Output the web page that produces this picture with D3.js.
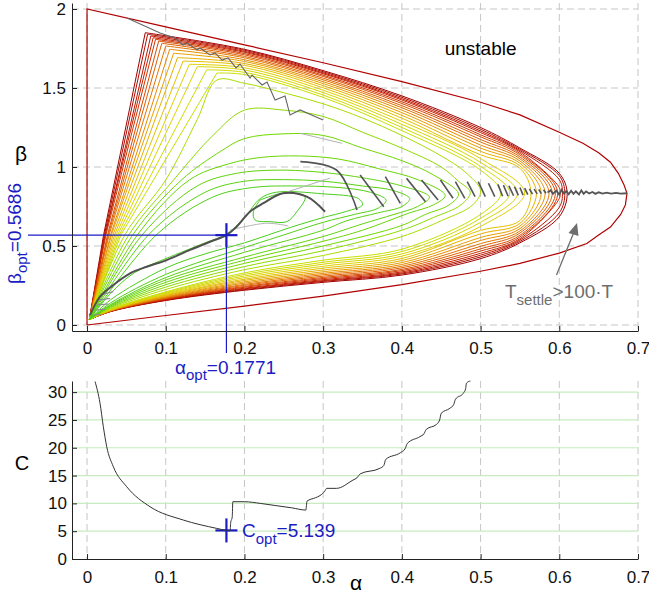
<!DOCTYPE html>
<html>
<head>
<meta charset="utf-8">
<script src="https://cdn.jsdelivr.net/npm/d3@7"></script>
<style>
  body { margin: 0; background: #fff; }
  text { font-family: "Liberation Sans", Arial, sans-serif; }
</style>
</head>
<body>
<svg width="649" height="605"></svg>
<script>
// ---- data ----
const alphaTicks = [0, 0.1, 0.2, 0.3, 0.4, 0.5, 0.6, 0.7];
const betaTicks = [0, 0.5, 1, 1.5, 2];
const cTicks = [0, 5, 10, 15, 20, 25, 30];

// stability boundary (alpha, beta)
const boundary = [[0,0],[0,2],[0.1,1.887],[0.2,1.773],[0.3,1.66],[0.4,1.54],[0.5,1.41],[0.55,1.33],
  [0.6,1.22],[0.63,1.15],[0.65,1.09],[0.665,1.03],[0.675,0.96],[0.682,0.89],[0.686,0.834],[0.684,0.76],
  [0.678,0.70],[0.665,0.62],[0.65,0.57],[0.635,0.516],[0.6,0.455],[0.55,0.39],[0.5,0.34],[0.4,0.255],
  [0.3,0.183],[0.2,0.12],[0.1,0.06],[0,0]];

// outer contour bundle (red -> yellow)
const origin = [0.003, 0.035];
const tipBeta = 0.835;
const topCols = [0.2, 0.3, 0.4, 0.5, 0.55, 0.6];
const botCols = [0.6, 0.55, 0.5, 0.4, 0.3, 0.2, 0.1, 0.03];
const bundleRay = [0.021,0.022,0.023,0.023,0.024,0.026,0.027,0.028,0.030,0.031,0.033,0.035,0.037,0.039,0.041,0.043];
const bundleCorner = [[0.074,1.850],[0.077,1.840],[0.081,1.829],[0.084,1.818],[0.087,1.808],[0.091,1.797],
  [0.095,1.783],[0.100,1.766],[0.105,1.745],[0.110,1.720],[0.115,1.692],[0.122,1.670],[0.130,1.650],
  [0.140,1.635],[0.152,1.615],[0.165,1.595]];
const bundleTop = [
  [1.745,1.610,1.450,1.250,1.120,0.960],
  [1.739,1.603,1.441,1.239,1.112,0.945],
  [1.732,1.596,1.432,1.228,1.104,0.920],
  [1.726,1.590,1.424,1.218,1.096,0.870],
  [1.718,1.581,1.413,1.204,1.086,null],
  [1.710,1.573,1.402,1.191,1.076,null],
  [1.700,1.562,1.388,1.174,1.064,null],
  [1.691,1.552,1.375,1.158,1.052,null],
  [1.679,1.540,1.360,1.139,1.038,null],
  [1.668,1.528,1.344,1.120,1.024,null],
  [1.655,1.515,1.327,1.099,1.008,null],
  [1.643,1.501,1.309,1.077,0.992,null],
  [1.628,1.486,1.289,1.053,null,null],
  [1.614,1.471,1.270,1.029,null,null],
  [1.599,1.455,1.250,1.004,null,null],
  [1.585,1.440,1.230,0.980,null,null]];
const bundleTip = [0.610,0.607,0.604,0.601,0.598,0.595,0.591,0.587,0.582,0.577,0.571,0.564,0.556,0.547,0.537,0.526];
const bundleBottom = [
  [0.685,0.520,0.420,0.316,0.270,0.220,0.155,0.085],
  [0.710,0.529,0.431,0.323,0.276,0.224,0.157,0.086],
  [0.745,0.538,0.442,0.329,0.281,0.229,0.159,0.086],
  [0.800,0.546,0.454,0.336,0.287,0.233,0.162,0.087],
  [null,0.557,0.468,0.344,0.294,0.239,0.164,0.088],
  [null,0.568,0.482,0.352,0.301,0.244,0.167,0.088],
  [null,0.582,0.498,0.362,0.309,0.251,0.170,0.089],
  [null,0.595,0.515,0.372,0.318,0.257,0.174,0.090],
  [null,0.610,0.535,0.383,0.327,0.265,0.178,0.091],
  [null,0.626,0.554,0.395,0.337,0.273,0.181,0.092],
  [null,0.643,0.577,0.408,0.348,0.282,0.186,0.093],
  [null,0.661,0.599,0.421,0.360,0.290,0.190,0.095],
  [null,null,0.624,0.436,0.372,0.300,0.195,0.096],
  [null,null,0.650,0.450,0.385,0.310,0.200,0.097],
  [null,null,0.675,0.465,0.397,0.320,0.205,0.099],
  [null,null,0.700,0.480,0.410,0.330,0.210,0.100]];

// inner (green) contours
const greenLines = [
  [[0.003,0.035],[0.048,0.57],[0.1,0.918],[0.14,1.3],[0.165,1.55],[0.2,1.53],[0.25,1.47],[0.3,1.40],[0.35,1.31],[0.4,1.2],[0.45,1.07],[0.48,0.97],[0.50,0.85],[0.49,0.76],[0.45,0.66],[0.4,0.56],[0.3,0.44],[0.2,0.35],[0.1,0.225],[0.03,0.105],[0.003,0.035]],
  [[0.003,0.035],[0.053,0.57],[0.11,0.918],[0.16,1.2],[0.2,1.36],[0.25,1.36],[0.3,1.32],[0.35,1.22],[0.4,1.12],[0.45,1.0],[0.472,0.91],[0.487,0.84],[0.475,0.76],[0.44,0.68],[0.4,0.60],[0.3,0.47],[0.2,0.37],[0.1,0.24],[0.03,0.11],[0.003,0.035]],
  [[0.003,0.035],[0.058,0.57],[0.12,0.918],[0.17,1.1],[0.2,1.18],[0.25,1.21],[0.3,1.2],[0.35,1.12],[0.4,1.04],[0.44,0.95],[0.472,0.83],[0.46,0.76],[0.43,0.70],[0.4,0.63],[0.3,0.50],[0.2,0.39],[0.1,0.255],[0.03,0.115],[0.003,0.035]],
  [[0.003,0.035],[0.064,0.57],[0.13,0.918],[0.18,1.02],[0.22,1.06],[0.27,1.07],[0.32,1.05],[0.37,0.99],[0.42,0.92],[0.455,0.82],[0.44,0.76],[0.41,0.71],[0.35,0.6],[0.3,0.53],[0.2,0.41],[0.1,0.27],[0.03,0.12],[0.003,0.035]],
  [[0.003,0.035],[0.07,0.57],[0.14,0.88],[0.19,0.96],[0.24,0.98],[0.29,0.97],[0.34,0.94],[0.4,0.88],[0.435,0.81],[0.42,0.75],[0.39,0.70],[0.35,0.64],[0.3,0.56],[0.2,0.43],[0.1,0.285],[0.03,0.125],[0.003,0.035]],
  [[0.003,0.035],[0.078,0.57],[0.15,0.84],[0.2,0.91],[0.25,0.92],[0.3,0.91],[0.35,0.88],[0.39,0.85],[0.41,0.8],[0.4,0.75],[0.37,0.71],[0.33,0.66],[0.3,0.6],[0.2,0.46],[0.1,0.30],[0.03,0.13],[0.003,0.035]],
  [[0.003,0.035],[0.088,0.57],[0.16,0.81],[0.21,0.87],[0.26,0.88],[0.32,0.87],[0.36,0.84],[0.38,0.79],[0.37,0.74],[0.34,0.70],[0.3,0.65],[0.25,0.57],[0.2,0.49],[0.1,0.32],[0.03,0.14],[0.003,0.035]],
  [[0.003,0.035],[0.03,0.2],[0.06,0.33],[0.1,0.42],[0.15,0.52],[0.177,0.575],[0.2,0.68],[0.22,0.8],[0.24,0.84],[0.3,0.83],[0.345,0.80],[0.35,0.76],[0.33,0.72],[0.3,0.68],[0.26,0.62],[0.2,0.52],[0.15,0.45],[0.1,0.36],[0.03,0.16],[0.003,0.035]],
  [[0.2198,0.791],[0.2113,0.717],[0.2135,0.665],[0.2326,0.654],[0.2538,0.654],[0.2665,0.717],[0.2770,0.812],[0.2494,0.834],[0.2198,0.791]]
];

// optimum-beta ridges (dark grey)
const ridgeUpper = [[0.0508,1.943],[0.0928,1.848],[0.1118,1.816],[0.122,1.772],[0.127,1.785],[0.1398,1.741],
  [0.1436,1.753],[0.1563,1.709],[0.1626,1.722],[0.1715,1.677],[0.1792,1.690],[0.1893,1.627],[0.1944,1.652],
  [0.2071,1.563],[0.2097,1.582],[0.2224,1.519],[0.2287,1.538],[0.2389,1.424],[0.2516,1.449],[0.2579,1.329],
  [0.2707,1.361],[0.2999,1.297]];
const ridgeMiddle = [[0.271,1.034],[0.317,0.981],[0.343,0.728]];
const ridgeLower = [[0.0038,0.063],[0.0165,0.179],[0.0334,0.253],[0.0546,0.327],[0.0758,0.369],[0.1012,0.411],
  [0.1309,0.475],[0.1563,0.527],[0.1771,0.5686],[0.190,0.622],[0.207,0.717],[0.224,0.771],[0.249,0.834],
  [0.2792,0.812],[0.3024,0.717]];
const ridgeLight = [
  [[0.1817,0.601],[0.2283,0.644],[0.2558,0.627]],
  [[0.249,0.834],[0.309,0.93]],
  [[0.271,1.213],[0.324,1.150]]
];
const ridgeTicks = [[0.347,0.949,0.377,0.749],[0.379,0.939,0.398,0.770],[0.406,0.928,0.430,0.780],
  [0.425,0.918,0.446,0.791],[0.449,0.918,0.465,0.802],[0.468,0.907,0.480,0.802],[0.483,0.907,0.493,0.812],
  [0.497,0.907,0.506,0.812],[0.510,0.897,0.518,0.812],[0.522,0.89,0.528,0.815],[0.529,0.885,0.535,0.815],
  [0.536,0.88,0.542,0.818],[0.543,0.875,0.548,0.82],[0.55,0.87,0.554,0.822],[0.556,0.866,0.56,0.825],
  [0.562,0.862,0.566,0.828],[0.568,0.86,0.572,0.83],[0.574,0.858,0.577,0.832],[0.580,0.856,0.583,0.834]];
const originTicks = [[0.0165,0.19,0.0334,0.211],[0.0144,0.158,0.0292,0.169],[0.0123,0.127,0.0271,0.133],
  [0.0102,0.095,0.0229,0.099],[0.0081,0.063,0.0187,0.068]];
const ridgeNoise = [[0.585,0.838],[0.589,0.852],[0.592,0.83],[0.596,0.85],[0.6,0.826],[0.603,0.856],[0.606,0.832],
  [0.609,0.848],[0.612,0.828],[0.615,0.85],[0.618,0.83],[0.621,0.846],[0.625,0.826],[0.628,0.852],[0.631,0.83],
  [0.634,0.845],[0.638,0.832],[0.642,0.842],[0.646,0.83],[0.65,0.84],[0.655,0.832],[0.66,0.838],[0.666,0.832],
  [0.672,0.836],[0.678,0.832],[0.686,0.834]];

// cost along the optimum ridge
const costCurve = [[0.0102,31.9],[0.0165,28],[0.0207,23.8],[0.025,20.2],[0.0334,16.6],[0.0504,13],[0.08,9.4],
  [0.1224,7.0],[0.1648,5.5],[0.1771,5.139],[0.1817,5.05],[0.1825,6.5],[0.1845,7.6],[0.1852,10.3],
  [0.2,10.3],[0.22,10.0],[0.24,9.6],[0.26,9.2],[0.278,8.8],[0.2795,10.4],[0.29,11.0],[0.296,11.4],[0.302,12.2],
  [0.3045,12.7],[0.317,12.7],[0.338,14.2],[0.343,14.6],[0.347,15.3],[0.372,16.3],[0.377,16.8],[0.3795,17.9],
  [0.398,19.1],[0.404,19.8],[0.407,20.8],[0.423,22.0],[0.428,22.5],[0.431,23.3],[0.444,24.2],[0.448,25.0],
  [0.45,26.2],[0.461,27.1],[0.466,27.8],[0.468,28.7],[0.478,29.8],[0.481,30.6],[0.482,31.6],[0.487,32.0]];

const alphaOpt = 0.1771;
const betaOpt = 0.5686;
const cOpt = 5.139;

// ---- drawing ----
const svg = d3.select("svg");
const blue = "#1c1cc4";

const x = d3.scaleLinear().domain([-0.0191, 0.7]).range([72, 638]);
const y = d3.scaleLinear().domain([-0.038, 2.038]).range([331, 3]);
const yC = d3.scaleLinear().domain([0, 32]).range([559, 381]);

const line = d3.line().x(d => x(d[0])).y(d => y(d[1]));
const smooth = d3.line().x(d => x(d[0])).y(d => y(d[1])).curve(d3.curveCatmullRom.alpha(0.5));

// grid, top panel
const grid = svg.append("g");
grid.selectAll(".vg").data(alphaTicks).join("line")
    .attr("x1", d => x(d)).attr("x2", d => x(d))
    .attr("y1", y.range()[1]).attr("y2", y.range()[0]);
grid.selectAll(".hg").data(betaTicks).join("line")
    .attr("x1", x.range()[0]).attr("x2", x.range()[1])
    .attr("y1", d => y(d)).attr("y2", d => y(d));
grid.selectAll("line")
    .attr("stroke", "#c6c6c6").attr("stroke-width", 1).attr("stroke-dasharray", "7,4");

// grid, bottom panel
const gridC = svg.append("g");
gridC.selectAll(".vg").data(alphaTicks).join("line")
    .attr("x1", d => x(d)).attr("x2", d => x(d))
    .attr("y1", yC.range()[1]).attr("y2", yC.range()[0])
    .attr("stroke", "#c6c6c6").attr("stroke-dasharray", "7,4");
gridC.selectAll(".hg").data(cTicks.slice(1)).join("line")
    .attr("x1", x.range()[0]).attr("x2", x.range()[1])
    .attr("y1", d => yC(d)).attr("y2", d => yC(d))
    .attr("stroke", "#c8ecc0").attr("stroke-width", 1.2);

// contour colours, outer (red) to inner (green)
const nLines = bundleTip.length + greenLines.length;
const colour = d3.scaleLinear()
    .domain([0, 3, 6, 9, 12, 15, 18, nLines - 1])
    .range(["#a00000", "#c82000", "#e06000", "#e8a000", "#e0d000", "#c8e000", "#70d800", "#40cc20"]);

// bundle contours: straight ray up to the corner, then a smooth run round the tip
const contours = svg.append("g").attr("fill", "none").attr("stroke-width", 1);
bundleTip.forEach((tip, k) => {
  const ray = [origin, [bundleRay[k], 0.57], bundleCorner[k]];
  const rest = [bundleCorner[k]];
  topCols.forEach((a, j) => {
    const b = bundleTop[k][j];
    if (b != null && a > bundleCorner[k][0]) rest.push([a, b]);
  });
  rest.push([tip, tipBeta]);
  botCols.forEach((a, j) => {
    const b = bundleBottom[k][j];
    if (b != null) rest.push([a, b]);
  });
  rest.push(origin);
  contours.append("path").datum(ray).attr("d", line).attr("stroke", colour(k));
  contours.append("path").datum(rest).attr("d", smooth).attr("stroke", colour(k));
});
contours.selectAll(".green").data(greenLines).join("path")
    .attr("d", smooth)
    .attr("stroke", (d, i) => colour(bundleTip.length + i));

// stability boundary
svg.append("path").datum(boundary)
    .attr("d", line)
    .attr("fill", "none").attr("stroke", "#b00000").attr("stroke-width", 1.2);

// ridges
const ridges = svg.append("g").attr("fill", "none");
ridges.selectAll(".lt").data(ridgeLight).join("path")
    .attr("d", smooth).attr("stroke", "#b4b4b4").attr("stroke-width", 1);
ridges.selectAll(".ot").data(originTicks).join("line")
    .attr("x1", d => x(d[0])).attr("y1", d => y(d[1]))
    .attr("x2", d => x(d[2])).attr("y2", d => y(d[3]))
    .attr("stroke", "#8a8a8a").attr("stroke-width", 1.2);
ridges.append("path").datum(ridgeUpper).attr("d", line)
    .attr("stroke", "#666").attr("stroke-width", 1.1);
ridges.append("path").datum(ridgeMiddle).attr("d", smooth)
    .attr("stroke", "#555").attr("stroke-width", 1.6);
ridges.append("path").datum(ridgeLower).attr("d", smooth)
    .attr("stroke", "#505050").attr("stroke-width", 2);
ridges.selectAll(".tk").data(ridgeTicks).join("line")
    .attr("x1", d => x(d[0])).attr("y1", d => y(d[1]))
    .attr("x2", d => x(d[2])).attr("y2", d => y(d[3]))
    .attr("stroke", "#555").attr("stroke-width", 1.6);
ridges.append("path").datum(ridgeNoise).attr("d", line)
    .attr("stroke", "#555").attr("stroke-width", 1.8);

// labels in the top panel
svg.append("text").attr("x", x(0.5)).attr("y", 55)
    .attr("text-anchor", "middle").attr("font-size", 19).text("unstable");

const ann = svg.append("text").attr("x", 505).attr("y", 298)
    .attr("fill", "#6e6e6e").attr("font-size", 19);
ann.append("tspan").text("T");
ann.append("tspan").attr("dy", 7).attr("font-size", 15).text("settle");
ann.append("tspan").attr("dy", -7).text(">100\u00b7T");

svg.append("line")
    .attr("x1", 556.5).attr("y1", 275).attr("x2", 574).attr("y2", 232)
    .attr("stroke", "#6e6e6e").attr("stroke-width", 1.3);
svg.append("path")
    .attr("d", "M577,223 L568.5,233 L578.5,236 Z")
    .attr("fill", "#6e6e6e");

// optimum markers
const xo = x(alphaOpt), yo = y(betaOpt), yco = yC(cOpt);
const opt = svg.append("g").attr("stroke", blue);
opt.append("line").attr("x1", 28).attr("x2", xo).attr("y1", yo).attr("y2", yo).attr("stroke-width", 1.2);
opt.append("line").attr("x1", xo).attr("x2", xo).attr("y1", yo).attr("y2", 353).attr("stroke-width", 1.2);
[yo, yco].forEach(cy => {
  opt.append("line").attr("x1", xo - 11).attr("x2", xo + 11).attr("y1", cy).attr("y2", cy).attr("stroke-width", 2.2);
  opt.append("line").attr("x1", xo).attr("x2", xo).attr("y1", cy - 12).attr("y2", cy + 12).attr("stroke-width", 2.2);
});

const tb = svg.append("text").attr("fill", blue).attr("font-size", 19)
    .attr("transform", "translate(21,284) rotate(-90)");
tb.append("tspan").text("\u03b2");
tb.append("tspan").attr("dy", 6).attr("font-size", 15).text("opt");
tb.append("tspan").attr("dy", -6).text("=" + betaOpt);

const ta = svg.append("text").attr("fill", blue).attr("font-size", 19)
    .attr("x", 175).attr("y", 374);
ta.append("tspan").text("\u03b1");
ta.append("tspan").attr("dy", 6).attr("font-size", 15).text("opt");
ta.append("tspan").attr("dy", -6).text("=" + alphaOpt);

const tc = svg.append("text").attr("fill", blue).attr("font-size", 19)
    .attr("x", 242).attr("y", 537);
tc.append("tspan").text("C");
tc.append("tspan").attr("dy", 7).attr("font-size", 15).text("opt");
tc.append("tspan").attr("dy", -7).text("=" + cOpt);

// cost curve
svg.append("path").datum(costCurve)
    .attr("d", d3.line().x(d => x(d[0])).y(d => yC(d[1])).curve(d3.curveMonotoneX))
    .attr("fill", "none").attr("stroke", "#333").attr("stroke-width", 1);

// axes
function style(g) {
  g.selectAll("text").attr("font-size", 17).attr("fill", "#111")
      .attr("font-family", "Liberation Sans, Arial, sans-serif");
  g.selectAll("line, path").attr("stroke", "#222");
}
svg.append("g").attr("transform", "translate(0,331)")
    .call(d3.axisBottom(x).tickValues(alphaTicks).tickFormat(d3.format("~g")).tickSize(-5).tickSizeOuter(0).tickPadding(11))
    .call(style);
svg.append("g").attr("transform", "translate(72,0)")
    .call(d3.axisLeft(y).tickValues(betaTicks).tickFormat(d3.format("~g")).tickSize(-5).tickSizeOuter(0).tickPadding(6))
    .call(style);
svg.append("g").attr("transform", "translate(0,559)")
    .call(d3.axisBottom(x).tickValues(alphaTicks).tickFormat(d3.format("~g")).tickSize(-5).tickSizeOuter(0).tickPadding(12))
    .call(style);
svg.append("g").attr("transform", "translate(72,0)")
    .call(d3.axisLeft(yC).tickValues(cTicks).tickSize(-5).tickSizeOuter(0).tickPadding(5))
    .call(style);

svg.append("text").attr("x", 21).attr("y", 161).attr("text-anchor", "middle").attr("font-size", 21).text("\u03b2");
svg.append("text").attr("x", 22).attr("y", 470).attr("text-anchor", "middle").attr("font-size", 20).text("C");
svg.append("text").attr("x", 356).attr("y", 590).attr("text-anchor", "middle").attr("font-size", 21).text("\u03b1");
</script>
</body>
</html>
